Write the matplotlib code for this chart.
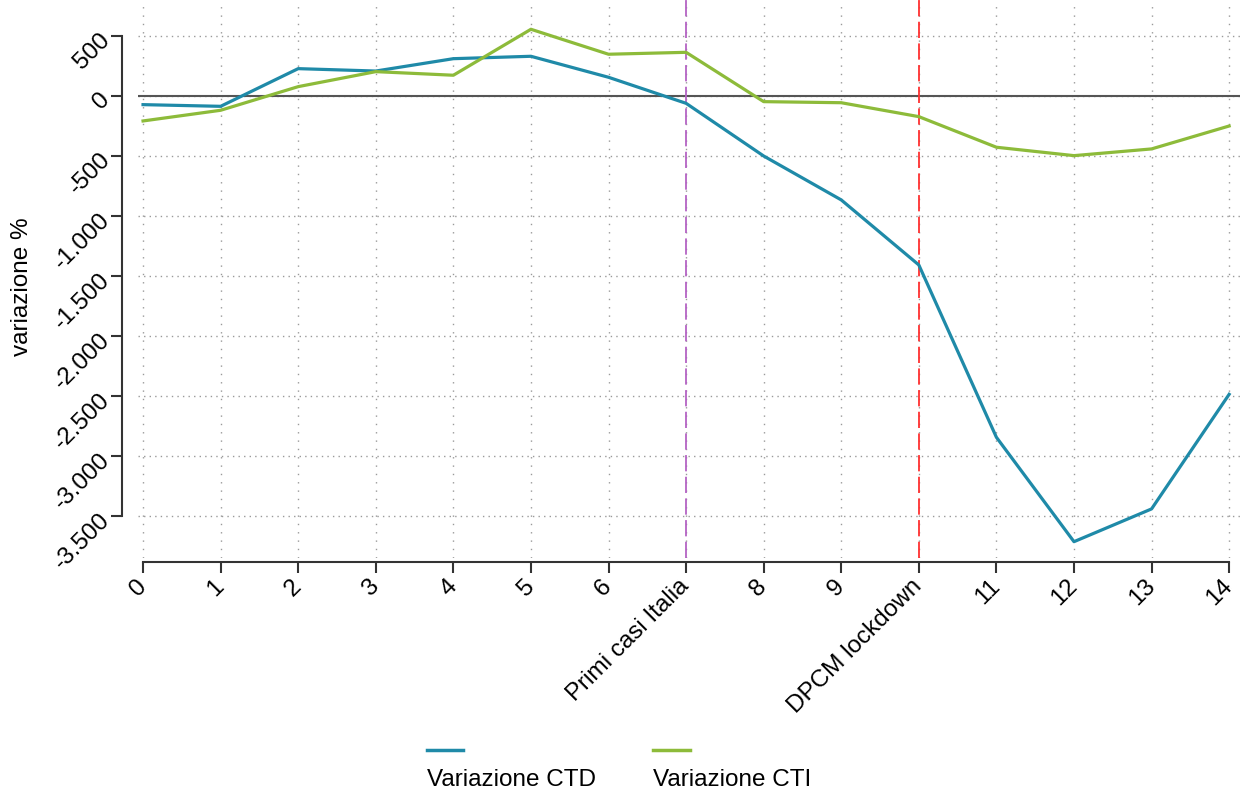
import numpy as np
import matplotlib
matplotlib.use("Agg")
import matplotlib.pyplot as plt
from matplotlib.lines import Line2D

plt.rcParams['font.family'] = ['Liberation Sans', 'DejaVu Sans']

# dati (variazione %)
settimane = np.arange(15)
ctd = [-68, -82, 232, 212, 315, 335, 160, -57, -496, -862, -1404, -2840, -3710, -3437, -2482]
cti = [-204, -115, 82, 207, 177, 560, 352, 368, -43, -52, -168, -423, -493, -437, -246]
xlabels = ['0', '1', '2', '3', '4', '5', '6', 'Primi casi Italia', '8', '9',
           'DPCM lockdown', '11', '12', '13', '14']
yticks = [500, 0, -500, -1000, -1500, -2000, -2500, -3000, -3500]
eventi = [7, 10]
col_eventi = ['#b463c4', '#ff3030']

col_ctd = '#1f8aa8'
col_cti = '#8dbb3a'

fig = plt.figure(figsize=(12.4, 7.95), dpi=100)
ax = fig.add_axes([138/1240, 237/795, 1102/1240, 558/795])

# griglia punteggiata
for yv in yticks:
    ax.axhline(yv, color='#9a9a9a', lw=1.0, ls=(0, (1, 3)), zorder=0)
for xv in settimane:
    ax.axvline(xv, color='#9a9a9a', lw=1.0, ls=(0, (1, 5)), zorder=0)
ax.axhline(0, color='#555555', lw=1.5, zorder=1)

for xv, c in zip(eventi, col_eventi):
    ax.axvline(xv, color=c, lw=1.3, ls=(0, (9, 3)), zorder=2)

ax.plot(settimane, ctd, color=col_ctd, lw=2.3, zorder=3)
ax.plot(settimane, cti, color=col_cti, lw=2.3, zorder=3)

ax.set_xlim(-0.065, 14.14)
ax.set_ylim(-3846, 804)

# assi stile Stata
for s in ['top', 'right']:
    ax.spines[s].set_visible(False)
ax.spines['left'].set_position(('outward', 11.5))
ax.spines['left'].set_bounds(-3500, 500)
ax.spines['bottom'].set_position(('outward', 3))
ax.spines['bottom'].set_bounds(0, 14)
for s in ['left', 'bottom']:
    ax.spines[s].set_color('#333333')
    ax.spines[s].set_linewidth(1.5)

ax.set_yticks(yticks)
ax.set_yticklabels([f"{v:,.0f}".replace(",", ".") for v in yticks],
                   rotation=45, ha='right', va='center', rotation_mode='anchor')
ax.set_xticks(settimane)
ax.set_xticklabels(xlabels, rotation=45, ha='right', va='center',
                   rotation_mode='anchor')
ax.tick_params(axis='both', length=8, width=1.5, color='#333333',
               labelsize=17.5, pad=3)
ax.tick_params(axis='x', pad=7)

fig.text(22/1240, 1 - 287/795, 'variazione %', rotation=90, fontsize=17.5,
         ha='center', va='center')

# legenda (chiave sopra l'etichetta)
for x0, x1, c, lab in [(427, 463, col_ctd, 'Variazione CTD'),
                       (653, 690, col_cti, 'Variazione CTI')]:
    fig.add_artist(Line2D([x0/1240, x1/1240], [1 - 750/795, 1 - 750/795],
                          color=c, lw=2.5))
    fig.text(x0/1240, 1 - 780/795, lab, fontsize=17.5, ha='left', va='center')

fig.savefig('out.png', dpi=100)
